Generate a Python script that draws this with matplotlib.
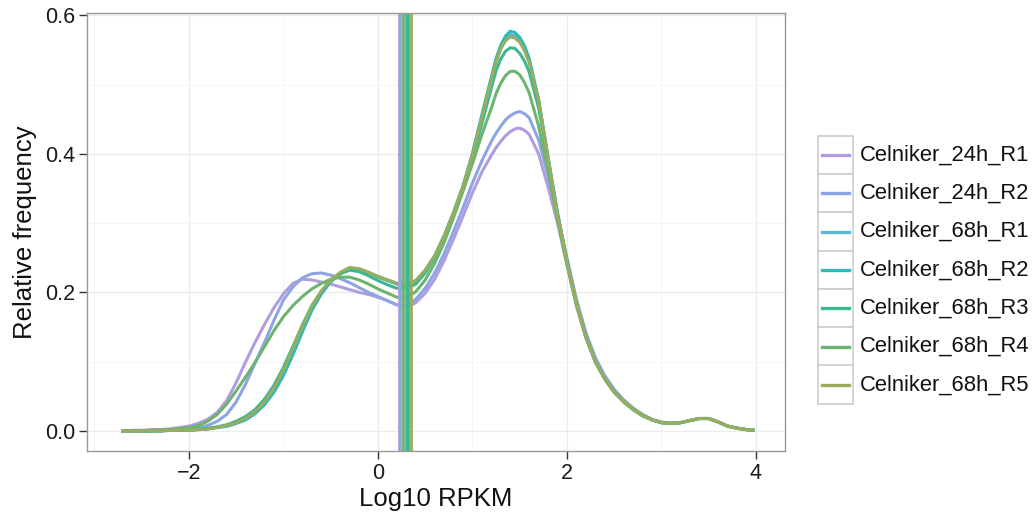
import matplotlib
matplotlib.use('Agg')
import matplotlib.pyplot as plt
from matplotlib.patches import Rectangle
from matplotlib.lines import Line2D
from matplotlib.ticker import MultipleLocator

plt.rcParams['font.family'] = ['Liberation Sans', 'DejaVu Sans']

# x 网格 (log10 RPKM), 峰值附近加密
log_rpkm = ([round(-2.7 + 0.1 * i, 2) for i in range(40)]       # -2.7 .. 1.2
            + [1.25, 1.3, 1.35, 1.4, 1.45, 1.5, 1.55, 1.6]
            + [round(1.7 + 0.1 * i, 2) for i in range(23)]       # 1.7 .. 3.9
            + [3.97])

# 密度值
celniker_24h_r1 = [0.000, 0.001, 0.001, 0.002, 0.002, 0.003, 0.005, 0.007, 0.011, 0.017,
                   0.027, 0.044, 0.070, 0.100, 0.128, 0.154, 0.178, 0.198, 0.213, 0.219,
                   0.218, 0.215, 0.212, 0.208, 0.204, 0.200, 0.197, 0.193, 0.188, 0.182,
                   0.179, 0.185, 0.199, 0.219, 0.246, 0.277, 0.310, 0.344, 0.374, 0.398,
                   0.409, 0.418, 0.426, 0.432, 0.436, 0.437, 0.434, 0.428,
                   0.400, 0.352, 0.300, 0.240, 0.180, 0.135, 0.100, 0.077, 0.058, 0.044,
                   0.032, 0.023, 0.016, 0.012, 0.011, 0.012, 0.015, 0.018, 0.018, 0.013,
                   0.007, 0.004, 0.002, 0.001]
celniker_24h_r2 = [0.000, 0.000, 0.000, 0.001, 0.001, 0.002, 0.002, 0.003, 0.005, 0.008,
                   0.014, 0.024, 0.042, 0.068, 0.098, 0.128, 0.160, 0.189, 0.208, 0.221,
                   0.227, 0.228, 0.225, 0.220, 0.214, 0.207, 0.200, 0.194, 0.188, 0.182,
                   0.181, 0.190, 0.206, 0.228, 0.256, 0.288, 0.322, 0.358, 0.390, 0.418,
                   0.430, 0.440, 0.449, 0.455, 0.459, 0.461, 0.458, 0.452,
                   0.420, 0.368, 0.310, 0.250, 0.190, 0.142, 0.106, 0.080, 0.060, 0.045,
                   0.033, 0.024, 0.017, 0.013, 0.011, 0.012, 0.015, 0.018, 0.018, 0.013,
                   0.007, 0.004, 0.002, 0.001]
celniker_68h_r1 = [0.000, 0.000, 0.000, 0.000, 0.000, 0.001, 0.001, 0.001, 0.002, 0.003,
                   0.005, 0.007, 0.011, 0.017, 0.026, 0.039, 0.057, 0.082, 0.112, 0.145,
                   0.175, 0.198, 0.215, 0.227, 0.234, 0.233, 0.228, 0.222, 0.217, 0.212,
                   0.209, 0.215, 0.230, 0.251, 0.280, 0.314, 0.352, 0.398, 0.453, 0.506,
                   0.533, 0.552, 0.565, 0.572, 0.570, 0.563, 0.551, 0.534,
                   0.478, 0.394, 0.313, 0.245, 0.185, 0.137, 0.100, 0.075, 0.056, 0.042,
                   0.031, 0.022, 0.016, 0.012, 0.011, 0.012, 0.015, 0.018, 0.018, 0.013,
                   0.007, 0.004, 0.002, 0.001]
celniker_68h_r2 = [0.000, 0.000, 0.000, 0.000, 0.000, 0.001, 0.001, 0.001, 0.002, 0.003,
                   0.005, 0.007, 0.011, 0.016, 0.025, 0.038, 0.056, 0.080, 0.110, 0.143,
                   0.174, 0.198, 0.216, 0.228, 0.235, 0.234, 0.229, 0.223, 0.218, 0.213,
                   0.211, 0.217, 0.232, 0.253, 0.282, 0.316, 0.354, 0.401, 0.457, 0.511,
                   0.538, 0.557, 0.570, 0.577, 0.575, 0.568, 0.556, 0.538,
                   0.477, 0.395, 0.315, 0.245, 0.185, 0.137, 0.100, 0.075, 0.056, 0.042,
                   0.031, 0.022, 0.016, 0.012, 0.011, 0.012, 0.015, 0.018, 0.018, 0.013,
                   0.007, 0.004, 0.002, 0.001]
celniker_68h_r3 = [0.000, 0.000, 0.000, 0.000, 0.001, 0.001, 0.001, 0.002, 0.003, 0.004,
                   0.006, 0.009, 0.014, 0.021, 0.031, 0.046, 0.066, 0.092, 0.122, 0.153,
                   0.181, 0.202, 0.217, 0.227, 0.232, 0.230, 0.224, 0.217, 0.211, 0.206,
                   0.205, 0.212, 0.228, 0.250, 0.278, 0.312, 0.348, 0.392, 0.444, 0.495,
                   0.520, 0.537, 0.548, 0.553, 0.552, 0.545, 0.534, 0.518,
                   0.466, 0.390, 0.312, 0.245, 0.184, 0.136, 0.100, 0.075, 0.056, 0.042,
                   0.031, 0.022, 0.016, 0.012, 0.011, 0.012, 0.015, 0.018, 0.018, 0.013,
                   0.007, 0.004, 0.002, 0.001]
celniker_68h_r4 = [0.000, 0.000, 0.000, 0.001, 0.001, 0.002, 0.003, 0.005, 0.008, 0.014,
                   0.024, 0.039, 0.058, 0.078, 0.099, 0.122, 0.145, 0.165, 0.181, 0.194,
                   0.205, 0.213, 0.219, 0.222, 0.222, 0.218, 0.212, 0.205, 0.199, 0.193,
                   0.192, 0.201, 0.218, 0.242, 0.272, 0.308, 0.346, 0.386, 0.428, 0.466,
                   0.487, 0.502, 0.513, 0.519, 0.519, 0.514, 0.503, 0.488,
                   0.440, 0.375, 0.305, 0.240, 0.182, 0.135, 0.100, 0.076, 0.057, 0.043,
                   0.032, 0.023, 0.016, 0.012, 0.011, 0.012, 0.015, 0.018, 0.018, 0.013,
                   0.007, 0.004, 0.002, 0.001]
celniker_68h_r5 = [0.000, 0.000, 0.000, 0.000, 0.000, 0.001, 0.001, 0.001, 0.002, 0.003,
                   0.005, 0.008, 0.012, 0.018, 0.028, 0.042, 0.062, 0.088, 0.119, 0.151,
                   0.180, 0.202, 0.218, 0.229, 0.236, 0.234, 0.229, 0.223, 0.218, 0.213,
                   0.211, 0.217, 0.232, 0.253, 0.281, 0.315, 0.353, 0.399, 0.453, 0.506,
                   0.533, 0.552, 0.563, 0.569, 0.567, 0.561, 0.549, 0.532,
                   0.476, 0.393, 0.312, 0.245, 0.185, 0.137, 0.100, 0.075, 0.056, 0.042,
                   0.031, 0.022, 0.016, 0.012, 0.011, 0.012, 0.015, 0.018, 0.018, 0.013,
                   0.007, 0.004, 0.002, 0.001]

samples = ['Celniker_24h_R1', 'Celniker_24h_R2', 'Celniker_68h_R1', 'Celniker_68h_R2',
           'Celniker_68h_R3', 'Celniker_68h_R4', 'Celniker_68h_R5']
densities = [celniker_24h_r1, celniker_24h_r2, celniker_68h_r1, celniker_68h_r2,
             celniker_68h_r3, celniker_68h_r4, celniker_68h_r5]
# 竖线位置 (每个样本一条)
cutoffs = [0.22, 0.235, 0.30, 0.32, 0.31, 0.26, 0.35]
colors = ['#B19CE0', '#8EA5E3', '#5DB5D8', '#2DBAB8', '#3AB893', '#6DB56F', '#9AAD5E']

W, H = 1036, 519
fig = plt.figure(figsize=(W / 100, H / 100), dpi=100)
ax = fig.add_axes([87 / W, (H - 451) / H, 698 / W, 438 / H])

for name, dens, c in zip(samples, densities, colors):
    ax.plot(log_rpkm, dens, color=c, lw=2.2, solid_joinstyle='round')
for xv, c in zip(cutoffs, colors):
    ax.axvline(xv, color=c, lw=2.0)

ax.set_xlim(-3.079, 4.307)
ax.set_ylim(-0.0289, 0.6032)
ax.set_xticks([-2, 0, 2, 4])
ax.set_yticks([0.0, 0.2, 0.4, 0.6])
ax.set_yticklabels(['0.0', '0.2', '0.4', '0.6'])
ax.xaxis.set_minor_locator(MultipleLocator(1))
ax.yaxis.set_minor_locator(MultipleLocator(0.1))
ax.grid(which='major', color='#EBEBEB', lw=1.0)
ax.grid(which='minor', color='#F5F5F5', lw=0.7)
ax.set_axisbelow(True)
ax.tick_params(which='major', length=5.5, width=1, color='#333333', labelsize=15.5,
               labelcolor='#1a1a1a', pad=3)
ax.tick_params(which='minor', length=0)
for s in ax.spines.values():
    s.set_color('#9a9a9a')
    s.set_linewidth(1)

ax.set_xlabel('Log10 RPKM', fontsize=18.5, color='#111111', labelpad=2)
ax.set_ylabel('Relative frequency', fontsize=18.5, color='#111111', labelpad=6)

# 图例 (ggplot 样式)
for i, (name, c) in enumerate(zip(samples, colors)):
    yc = 155 + 38.3 * i
    fig.add_artist(Rectangle((818 / W, 1 - (yc + 19) / H), 35 / W, 38.3 / H,
                             transform=fig.transFigure, facecolor='white',
                             edgecolor='#CCCCCC', lw=1.2))
    fig.add_artist(Line2D([822 / W, 849 / W], [1 - yc / H, 1 - yc / H],
                          transform=fig.transFigure, color=c, lw=2.4))
    fig.text(860 / W, 1 - yc / H, name, fontsize=15.8, va='center', ha='left', color='#111111')

fig.savefig('out.png', dpi=100)
